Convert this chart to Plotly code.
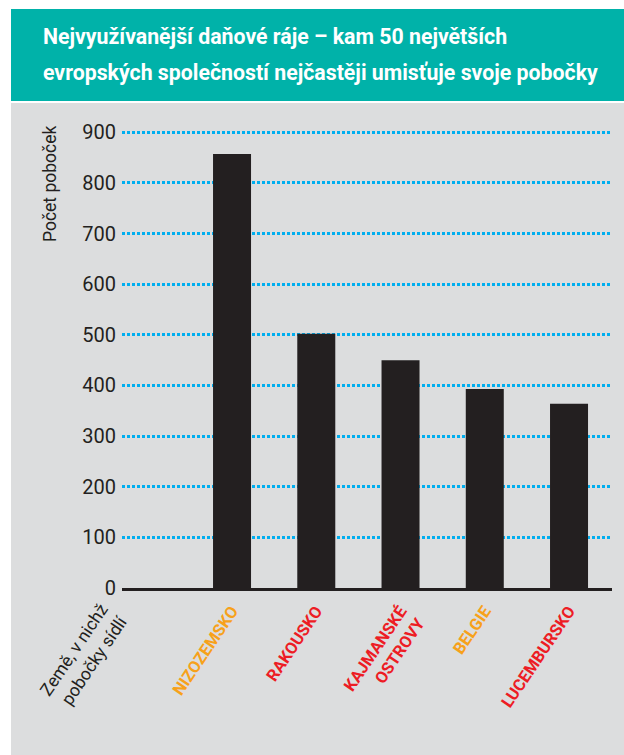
import plotly.graph_objects as go

categories = ["NIZOZEMSKO", "RAKOUSKO", "KAJMANSKÉ<br>OSTROVY", "BELGIE", "LUCEMBURSKO"]
label_colors = ["#F7A11A", "#ED1C24", "#ED1C24", "#F7A11A", "#ED1C24"]
values = [857, 502, 450, 393, 364]
y_ticks = [0, 100, 200, 300, 400, 500, 600, 700, 800, 900]

title_line1 = "Nejvyužívanější daňové ráje – kam 50 největších"
title_line2 = "evropských společností nejčastěji umisťuje svoje pobočky"
y_title = "Počet poboček"
x_title = "Země, v nichž<br>pobočky sídlí"

W, H = 624, 755
L, R, T, B = 122, 12, 121, 167
PW, PH = W - L - R, H - T - B

def px_x(px):
    return (px - L) / PW

def px_y(py):
    return (H - B - py) / PH

FONT = "Roboto, Liberation Sans, sans-serif"
DARK = "#231F20"

idx = list(range(len(categories)))
ticktext = [f"<span style='color:{c}'><b>{t}</b></span>" for t, c in zip(categories, label_colors)]

fig = go.Figure()
fig.add_trace(go.Bar(x=idx, y=values, marker=dict(color=DARK, line=dict(width=0)),
                     width=0.451, hoverinfo="skip"))

fig.update_layout(
    width=W, height=H,
    margin=dict(l=L, r=R, t=T, b=B),
    paper_bgcolor="white",
    plot_bgcolor="rgba(0,0,0,0)",
    showlegend=False,
    font=dict(family=FONT, color=DARK),
    xaxis=dict(
        range=[-1.306, 4.51],
        tickmode="array", tickvals=idx, ticktext=ticktext,
        tickangle=-56,
        tickfont=dict(size=16.5, family=FONT),
        showgrid=False, zeroline=False,
        showline=True, linecolor=DARK, linewidth=3,
        ticks="outside", ticklen=4, tickcolor="rgba(0,0,0,0)",
    ),
    yaxis=dict(
        range=[0, 922.4],
        tickmode="array", tickvals=y_ticks,
        tickfont=dict(size=20, family=FONT, color=DARK),
        showgrid=True, gridcolor="#00AEEF", gridwidth=2.5, griddash="3px,2px",
        zeroline=False, showline=False,
        ticks="outside", ticklen=1, tickcolor="rgba(0,0,0,0)",
    ),
    shapes=[
        dict(type="rect", xref="paper", yref="paper", layer="below",
             x0=px_x(11), x1=px_x(624), y0=px_y(101), y1=px_y(9),
             fillcolor="#00B2A9", line=dict(width=0)),
        dict(type="rect", xref="paper", yref="paper", layer="below",
             x0=px_x(11), x1=px_x(624), y0=px_y(755), y1=px_y(103),
             fillcolor="#DCDDDE", line=dict(width=0)),
    ],
    annotations=[
        dict(text=f"<b>{title_line1}</b>", xref="paper", yref="paper",
             x=px_x(41), y=px_y(37), xanchor="left", yanchor="middle",
             align="left", showarrow=False,
             font=dict(size=21.3, color="white", family=FONT)),
        dict(text=f"<b>{title_line2}</b>", xref="paper", yref="paper",
             x=px_x(41), y=px_y(72), xanchor="left", yanchor="middle",
             align="left", showarrow=False,
             font=dict(size=21.3, color="white", family=FONT)),
        dict(text=y_title, xref="paper", yref="paper",
             x=px_x(50), y=px_y(184), xanchor="center", yanchor="middle",
             textangle=-90, showarrow=False,
             font=dict(size=17.5, color=DARK, family=FONT)),
        dict(text=x_title, xref="paper", yref="paper",
             x=px_x(83), y=px_y(656), xanchor="center", yanchor="middle",
             textangle=-56, align="right", showarrow=False,
             font=dict(size=17.5, color=DARK, family=FONT)),
    ],
)

fig.write_html(
    "out.html",
    config={"displayModeBar": False},
    post_script="document.body.style.margin='0';document.body.style.overflow='hidden';",
)
